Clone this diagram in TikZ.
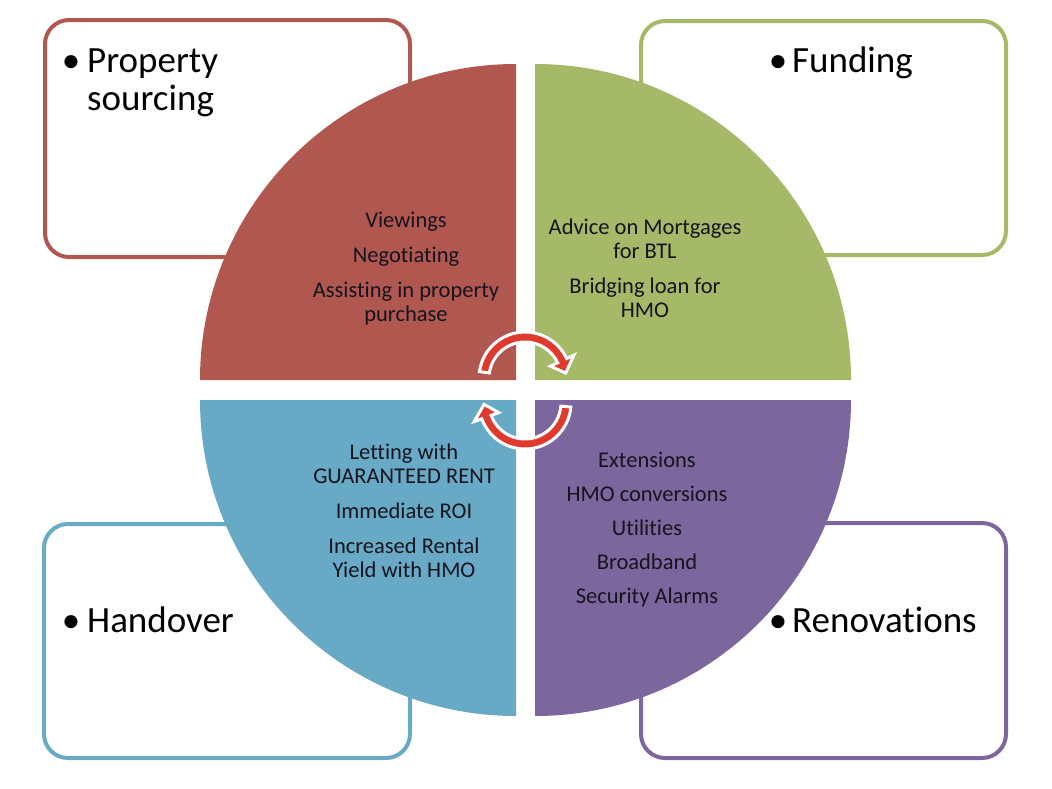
\documentclass[tikz,border=0pt]{standalone}
\usepackage{fontspec}
\setmainfont{Carlito}[Ligatures=NoCommon]
\usetikzlibrary{calc}
\definecolor{cred}{HTML}{B05750}
\definecolor{cgreen}{HTML}{A5B968}
\definecolor{cblue}{HTML}{68AAC6}
\definecolor{cpurple}{HTML}{7C669E}
\definecolor{carrow}{HTML}{E0392E}
\definecolor{ctext}{HTML}{16141E}
\begin{document}
\begin{tikzpicture}[x=1pt,y=-1pt,
 box/.style={draw, line width=4pt, rounded corners=24pt, fill=white},
 big/.style={font=\fontsize{37}{38}\selectfont, text=black, inner sep=0pt, align=left},
 inner/.style={font=\fontsize{22.5}{24}\selectfont, text=ctext, align=center, inner sep=0pt},
 blockarrow/.style={fill=carrow, draw=white, line width=3pt, line join=miter}]
\useasboundingbox (0,0) rectangle (1052,788);
% boxes
\draw[box, draw=cred] (45,20) rectangle (410,257);
\draw[box, draw=cgreen] (641,21) rectangle (1006,255);
\draw[box, draw=cblue] (44,524) rectangle (410,758);
\draw[box, draw=cpurple] (641,523) rectangle (1006,758);
% quadrants
\fill[cred] (516,380) -- (200,380) arc[start angle=180,end angle=270,radius=316] -- cycle;
\fill[cgreen] (535,380) -- (535,64) arc[start angle=270,end angle=360,radius=316] -- cycle;
\fill[cblue] (516,400) -- (200,400) arc[start angle=180,end angle=90,radius=316] -- cycle;
\fill[cpurple] (535,400) -- (851,400) arc[start angle=0,end angle=90,radius=316] -- cycle;
% circular arrows
\coordinate (c1) at (525,378);
\coordinate (c2) at (525,403);
\filldraw[blockarrow] ($(c1)+(188:46)$) arc[start angle=188,end angle=335,radius=46] -- ($(c1)+(335:54)$) -- ($(c1)+(353:41)$) -- ($(c1)+(335:28)$) -- ($(c1)+(335:36)$) arc[start angle=335,end angle=188,radius=36] -- cycle;
\filldraw[blockarrow] ($(c2)+(5:46)$) arc[start angle=5,end angle=160,radius=46] -- ($(c2)+(160:54)$) -- ($(c2)+(178:41)$) -- ($(c2)+(160:28)$) -- ($(c2)+(160:36)$) arc[start angle=160,end angle=5,radius=36] -- cycle;
% quadrant texts
\node[inner] (t1) at (406,269) {Viewings\\[11pt]Negotiating\\[11pt]Assisting in property\\purchase};
\node[inner] (t2) at (645,268) {Advice on Mortgages\\for BTL\\[11pt]Bridging loan for\\HMO};
\node[inner] (t3) at (404,511) {Letting with\\GUARANTEED RENT\\[11pt]Immediate ROI\\[11pt]Increased Rental\\Yield with HMO};
\node[inner] (t4) at (647,530) {Extensions\\[10pt]HMO conversions\\[10pt]Utilities\\[10pt]Broadband\\[10pt]Security Alarms};
% box labels
\node[big, anchor=base] (b1) at (71,72) {\textbullet};
\node[big, anchor=base west] (l1) at (87,72) {Property};
\node[big, anchor=base west] (l1b) at (87,110) {sourcing};
\node[big, anchor=base] (b2) at (778,72) {\textbullet};
\node[big, anchor=base west] (l2) at (792,72) {Funding};
\node[big, anchor=base] (b3) at (71,632) {\textbullet};
\node[big, anchor=base west] (l3) at (87,632) {Handover};
\node[big, anchor=base] (b4) at (778,632) {\textbullet};
\node[big, anchor=base west] (l4) at (792,632) {Renovations};
\end{tikzpicture}
\end{document}
